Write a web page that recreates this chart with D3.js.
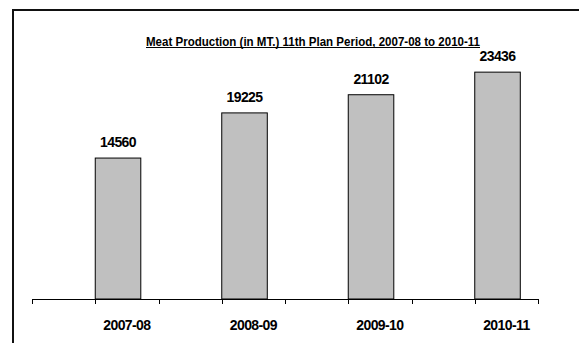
<!DOCTYPE html>
<html>
<head>
<meta charset="utf-8">
<script src="https://cdn.jsdelivr.net/npm/d3@7"></script>
<style>
  html, body { margin: 0; padding: 0; background: #fff; }
  svg { display: block; }
  text { font-family: "Liberation Sans", Arial, sans-serif; font-weight: bold; fill: #000; }
</style>
</head>
<body>
<svg id="chart" width="579" height="343"></svg>
<script>
// Meat production per year of the 11th Plan period (MT.)
const years = ["2007-08", "2008-09", "2009-10", "2010-11"];
const production = [14560, 19225, 21102, 23436];
const yTicks = [0, 5000, 10000, 15000, 20000, 25000];
const titleText = "Meat Production (in MT.) 11th Plan Period, 2007-08 to 2010-11";

const svg = d3.select("#chart");
const W = 579, H = 343;

// Frame: top and left rules only
svg.append("path")
  .attr("d", `M13,${H} V10 H${W}`)
  .attr("fill", "none")
  .attr("stroke", "#111")
  .attr("stroke-width", 2);

const plot = { left: 32, right: 538, top: 57, bottom: 299 };

const x = d3.scaleBand().domain(years).range([plot.left, plot.right]).padding(0);
const y = d3.scaleLinear().domain([0, d3.max(yTicks)]).range([plot.bottom, plot.top]);

const bw = x.bandwidth();
const barW = bw * 0.36;

// Bars start at the middle of each category slot
svg.append("g").selectAll("rect")
  .data(years)
  .join("rect")
  .attr("x", (d) => x(d) + bw / 2)
  .attr("y", (d, i) => y(production[i]))
  .attr("width", barW)
  .attr("height", (d, i) => y(0) - y(production[i]))
  .attr("fill", "#c0c0c0")
  .attr("stroke", "#000")
  .attr("stroke-width", 1);

// Value labels above bars
svg.append("g").selectAll("text")
  .data(years)
  .join("text")
  .attr("x", (d) => x(d) + bw / 2 + barW / 2)
  .attr("y", (d, i) => y(production[i]) - 11)
  .attr("text-anchor", "middle")
  .attr("font-size", 14)
  .attr("letter-spacing", -0.6)
  .text((d, i) => production[i]);

// Category axis: baseline with ticks at slot edges and slot centres
const tickPos = [];
years.forEach((d) => { tickPos.push(x(d)); tickPos.push(x(d) + bw / 2); });
tickPos.push(plot.right);

const axis = svg.append("g");
axis.append("line")
  .attr("x1", plot.left).attr("x2", plot.right)
  .attr("y1", y(0) + 0.5).attr("y2", y(0) + 0.5)
  .attr("stroke", "#000");
axis.selectAll("line.tick")
  .data(tickPos)
  .join("line")
  .attr("class", "tick")
  .attr("x1", (d) => Math.round(d) + 0.5).attr("x2", (d) => Math.round(d) + 0.5)
  .attr("y1", y(0)).attr("y2", y(0) + 5)
  .attr("stroke", "#000");

axis.selectAll("text")
  .data(years)
  .join("text")
  .attr("x", (d) => x(d) + bw * 0.75)
  .attr("y", 330)
  .attr("text-anchor", "middle")
  .attr("font-size", 14)
  .attr("letter-spacing", -0.6)
  .text((d) => d);

// Underlined title
svg.append("text")
  .attr("x", 146)
  .attr("y", 46)
  .attr("font-size", 13)
  .attr("textLength", 334)
  .attr("lengthAdjust", "spacingAndGlyphs")
  .text(titleText);
svg.append("line")
  .attr("x1", 146).attr("x2", 480)
  .attr("y1", 47.5).attr("y2", 47.5)
  .attr("stroke", "#000");
</script>
</body>
</html>
